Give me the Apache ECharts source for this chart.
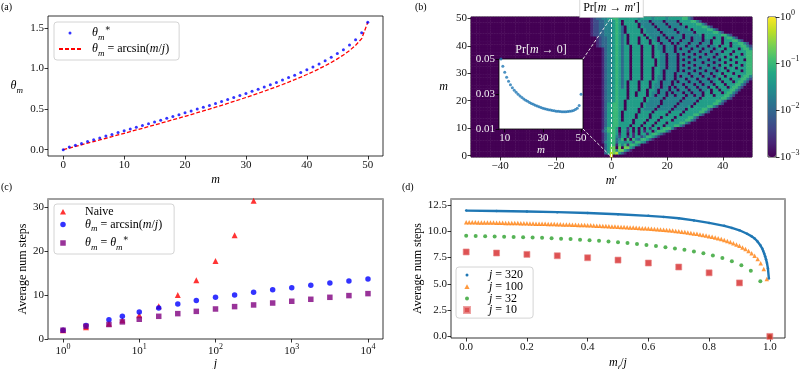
<!DOCTYPE html>
<html>
<head>
<meta charset="utf-8">
<script src="https://cdn.jsdelivr.net/npm/echarts@6.0.0/dist/echarts.min.js"></script>
<style>html,body{margin:0;padding:0;background:#fff;}#chart{width:806px;height:369px;}</style>
</head>
<body>
<div id="chart"></div>
<script>
// ================= DATA =================
// Panel (a)
const mList = [0,1,2,3,4,5,6,7,8,9,10,11,12,13,14,15,16,17,18,19,20,21,22,23,24,25,26,27,28,29,30,31,32,33,34,35,36,37,38,39,40,41,42,43,44,45,46,47,48,49,50];
const thetaStar = [0,0.032,0.055,0.077,0.099,0.122,0.144,0.167,0.188,0.210,0.232,0.254,0.276,0.298,0.320,0.342,0.364,0.386,0.408,0.431,0.454,0.476,0.500,0.523,0.546,0.570,0.594,0.618,0.642,0.668,0.694,0.719,0.746,0.773,0.801,0.829,0.859,0.889,0.919,0.952,0.985,1.020,1.057,1.096,1.139,1.185,1.234,1.291,1.357,1.441,1.571];
const thetaArcsin = [0,0.0200,0.0400,0.0600,0.0801,0.1002,0.1203,0.1405,0.1607,0.1810,0.2014,0.2218,0.2424,0.2630,0.2838,0.3047,0.3257,0.3469,0.3683,0.3898,0.4115,0.4334,0.4556,0.4780,0.5006,0.5236,0.5469,0.5704,0.5944,0.6187,0.6435,0.6687,0.6945,0.7208,0.7478,0.7754,0.8038,0.8331,0.8632,0.8947,0.9273,0.9614,0.9973,1.0353,1.0759,1.1198,1.1681,1.2226,1.2870,1.3694,1.5708];

// Panel (b): estimated colour level per cell (0 = 1e-3 ... 9 = 1e0, steps of 1/3 decade)
// one string per row m = 0..50; groups of 10 characters start at m' = -10, 0, 10, 20, 30, 40, 50
const heatRows = [
"0000000000 9",
"0000000035 878531",
"0000000035 77477531",
"0000000035 770707753",
"0000000035 6616461665 3",
"0000000145 6635545536 6541",
"0000000135 6634606064 366531",
"0000000135 6642551515 52466531",
"0000000135 6651550515 0551566531",
"0000000246 6650551505 0515505666 42",
"0000000146 6650551505 0505155056 6641",
"0000000135 5665555055 5055505550 5556642",
"0000000135 5665555505 5505550555 055556642",
"0000000135 5665055505 5550555055 5505555664 2",
"0000000135 5665055550 5555055505 5550555566 42",
"0000000135 5665055550 5555055555 0555505555 6642",
"0000000135 5665055555 0555505555 5055550555 556642",
"0000000135 5665505555 0544440444 4404444055 5556642",
"0000000135 5665505555 5054444044 4440444450 555556642",
"0000000135 5665505555 5054444404 4444044444 0555555664 2",
"0000000134 4565505555 5505444404 4444404444 4055555566 42",
"0000000134 4565550555 5505444440 4444440444 4405555555 6642",
"0000000134 4565550550 5550540444 0440444044 0440555055 56642",
"0000000134 4565550550 5550544044 0404440440 4440550555 056642",
"0000000134 4565550555 0550554044 4044044404 4404450550 5556642",
"0000000134 4565350555 0555054404 4040444044 4044405505 55056642",
"0000000134 4565350555 0555054404 4404440444 0440444055 505556642",
"0000000134 4565350555 0555055404 4404044404 4404440455 0555056642",
"0000000134 4565355055 5055505440 4440444044 4044404450 5550555664 2",
"0000000134 4565355055 5055505440 4440404440 4440444045 5055550566 4",
"0000000134 4565355055 5055505540 4440444404 4404440445 0555055556 6",
"0000000134 4565355055 5055505540 4444040444 0444044404 5505555056 6",
"0000000134 4565355055 5055505544 0444044404 4404444044 5055505556 6",
"0000000134 4565355055 5055550544 0444040444 0444404440 5550555056 6",
"0000000134 4565355055 5055550544 0444044404 4440444044 5055505556 6",
"0000000134 4565355055 5055550544 0444040444 0444404440 5550555506 6",
"0000000134 4565355055 5055505544 0444044404 4404444044 5055505556 6",
"0000000134 4565355055 5055505544 0444040444 0444044404 5550555056 6",
"0000000134 4565355055 5055505540 4440444404 4404440444 0555055556 6",
"0000000134 4565355055 5055505440 4440404440 4440444045 5055550566 4",
"0000012334 4565355055 5055505440 4440444044 4044404450 5550555664 2",
"0000012334 4565350555 0555055404 4404044404 4404440555 0550556642",
"0000012334 4565350555 0555054044 4044404440 4440440555 05556642",
"0000012334 4565350555 0550544044 0404440440 4440555055 056642",
"0001223344 4565350555 5505444440 4444440444 4450555555 6642",
"0001223344 4565305555 5054444404 4444044444 0555555664 2",
"0001223344 4565305555 5054444044 4440444450 555556642",
"0001223344 4565305555 0544440444 4044444055 5556642",
"0001223344 4565055555 0444404444 0444405555 56642",
"0001223344 4565055550 5444044440 4444055556 642",
"0001233445 5665555555 4555545555 4555556642"
];
const colorbarTicks = [0.001, 0.01, 0.1, 1];
// inset of (b): Pr[m -> 0]
const insetM = [8,9,10,11,12,13,14,15,16,17,18,19,20,21,22,23,24,25,26,27,28,29,30,31,32,33,34,35,36,37,38,39,40,41,42,43,44,45,46,47,48,49,50];
const insetPr = [0.0500,0.0458,0.0424,0.0396,0.0373,0.0353,0.0336,0.0322,0.0310,0.0299,0.0289,0.0280,0.0272,0.0265,0.0258,0.0252,0.0246,0.0241,0.0236,0.0231,0.0227,0.0223,0.0219,0.0216,0.0213,0.0210,0.0208,0.0206,0.0204,0.0202,0.0201,0.0200,0.0199,0.0199,0.0199,0.0200,0.0201,0.0203,0.0206,0.0211,0.0218,0.0235,0.0298];
const insetRef = 0.03;

// Panel (c)
const jList = [1,2,4,6,10,18,32,56,100,178,316,562,1000,1778,3162,5623,10000];
const naiveSteps = [2.0,2.66,3.5,4.25,5.4,7.45,10.0,13.4,17.8,23.65,31.5];
const arcsinSteps = [2.0,3.1,4.4,5.2,6.15,7.07,7.98,8.75,9.5,10.04,10.65,11.25,11.7,12.24,12.78,13.23,13.69];
const starSteps = [2.0,2.9,3.3,3.9,4.5,5.17,5.78,6.3,6.84,7.38,7.76,8.2,8.6,9.05,9.5,9.89,10.34];
const cTicks = [1,10,100,1000,10000];

// Panel (d)
const d320x = [0,0.1,0.2,0.3,0.4,0.5,0.6,0.65,0.7,0.75,0.8,0.85,0.875,0.9,0.925,0.9406,0.95,0.9594,0.9688,0.975,0.9781,0.9813,0.9844,0.9875,0.9906,0.9938,0.9969];
const d320y = [11.95,11.91,11.86,11.80,11.72,11.60,11.45,11.35,11.22,11.02,10.78,10.50,10.30,10.08,9.75,9.50,9.30,9.02,8.65,8.35,8.12,7.88,7.62,7.32,6.98,6.45,5.50];
const d100 = [10.85,10.85,10.84,10.84,10.83,10.83,10.82,10.82,10.81,10.81,10.80,
10.79,10.79,10.78,10.77,10.77,10.76,10.76,10.75,10.74,10.74,
10.73,10.72,10.71,10.71,10.70,10.69,10.68,10.67,10.67,10.66,
10.65,10.64,10.63,10.62,10.61,10.60,10.59,10.58,10.57,10.56,
10.55,10.53,10.52,10.51,10.49,10.48,10.46,10.45,10.43,10.42,
10.40,10.39,10.37,10.35,10.34,10.32,10.30,10.28,10.27,10.25,
10.23,10.21,10.18,10.16,10.13,10.10,10.08,10.05,10.02,9.98,
9.95,9.91,9.87,9.83,9.78,9.74,9.69,9.64,9.58,9.52,
9.46,9.39,9.32,9.24,9.15,9.06,8.96,8.85,8.73,8.60,
8.45,8.30,8.12,7.90,7.65,7.35,6.95,6.40,5.45,0];
const d32 = [9.56,9.54,9.52,9.50,9.47,9.45,9.42,9.39,9.36,9.32,9.28,9.24,9.19,9.14,9.08,9.01,8.94,8.86,8.78,8.68,8.58,8.47,8.35,8.22,8.07,7.91,7.69,7.44,7.15,6.77,6.23,5.25,0];
const d10 = [8.02,7.92,7.79,7.66,7.47,7.25,6.97,6.59,6.04,5.08,0];

// ================= BUILD =================
const SERIF = "'Liberation Serif','DejaVu Serif',serif";
// rich text styles (ECharts option style uses "color", graphic/zrender style uses "fill")
const R = (col, fs, key) => {
  key = key || 'color';
  const s = (o) => { o[key] = col; return o; };
  return {
    i: s({fontFamily: SERIF, fontStyle: 'italic', fontSize: fs, lineHeight: fs + 6}),
    n: s({fontFamily: SERIF, fontSize: fs, lineHeight: fs + 6}),
    sub: s({fontFamily: SERIF, fontStyle: 'italic', fontSize: Math.round(fs * 0.72), lineHeight: Math.round(fs * 0.72), verticalAlign: 'bottom'}),
    sup: s({fontFamily: SERIF, fontSize: Math.round(fs * 0.72), lineHeight: Math.round(fs * 0.72), verticalAlign: 'top'})
  };
};
const RB = R('#000', 12);
const RW = R('#f2f2f2', 11);

const viridis = ['#440154','#482475','#414487','#355f8d','#2a788e','#21918c','#22a884','#44bf70','#7ad151','#bddf26','#fde725'];

const xCats = []; for (let i = -50; i <= 50; i++) xCats.push(String(i));
const yCats = []; for (let i = 0; i <= 50; i++) yCats.push(String(i));
const heat = [];
heatRows.forEach((row, m) => {
  const lv = new Array(101).fill(0);
  row.split(' ').forEach((seg, k) => {
    for (let c = 0; c < seg.length && c < 10; c++) {
      const mp = -10 + 10 * k + c;
      if (mp >= -50 && mp <= 50) lv[mp + 50] = +seg[c];
    }
  });
  lv.forEach((v, i) => heat.push([i, m, v]));
});

const pair = (xs, ys) => xs.map((x, i) => [x, ys[i]]);
const aStar = pair(mList, thetaStar);
const aArc = pair(mList, thetaArcsin);
const insetData = pair(insetM, insetPr);
const cNaive = pair(jList.slice(0, naiveSteps.length), naiveSteps);
const cArc = pair(jList, arcsinSteps);
const cStar = pair(jList, starSteps);
const d320 = pair(d320x, d320y);
const d100d = d100.map((v, k) => [k / 100, v]);
const d32d = d32.map((v, k) => [k / 32, v]);
const d10d = d10.map((v, k) => [k / 10, v]);

const minus = s => String(s).replace('-', '\u2212');
const pow10 = v => { const k = Math.round(Math.log10(v)); return '{n|10}{sup|' + minus(k) + '}'; };

const tickStyle = {show: true, length: 3.5, lineStyle: {color: '#000', width: 0.8}};
const lblStyle = {fontFamily: SERIF, fontSize: 11, color: '#111', margin: 4};
const noLine = {show: false, onZero: false};
function vAxis(gi, min, max, ticks, fmt, extra) {
  return Object.assign({
    type: 'value', gridIndex: gi, min: min, max: max,
    axisLine: noLine, splitLine: {show: false},
    axisTick: Object.assign({customValues: ticks}, tickStyle),
    axisLabel: Object.assign({customValues: ticks, formatter: fmt}, lblStyle)
  }, extra || {});
}
const f1 = v => v.toFixed(1);
const f0 = v => String(Math.round(v));
const f2 = v => v.toFixed(2);

const gridBase = {show: true, borderColor: '#000', borderWidth: 0.8, containLabel: false, outerBoundsMode: 'none'};
const grids = [
  Object.assign({left: 48, top: 16, width: 335, height: 140}, gridBase),
  Object.assign({left: 471, top: 17, width: 281, height: 140}, gridBase),
  Object.assign({left: 499, top: 59, width: 84, height: 70, backgroundColor: '#fff', z: 10}, gridBase),
  Object.assign({left: 768, top: 17, width: 8, height: 140}, gridBase),
  Object.assign({left: 48, top: 199, width: 335, height: 140}, gridBase),
  Object.assign({left: 451, top: 199, width: 334, height: 139}, gridBase)
];

const nameStyle = (rich) => ({rich: rich});

const xAxes = [
  vAxis(0, -2.5, 52.5, [0,10,20,30,40,50], f0, {name: '{i|m}', nameLocation: 'middle', nameGap: 15, nameTextStyle: nameStyle(RB)}),
  {type: 'category', gridIndex: 1, data: xCats, boundaryGap: true,
   axisLine: noLine, splitLine: {show: false},
   axisTick: Object.assign({alignWithLabel: true, interval: (i, v) => [-40,-20,0,20,40].indexOf(+v) >= 0}, tickStyle),
   axisLabel: Object.assign({interval: (i, v) => [-40,-20,0,20,40].indexOf(+v) >= 0, formatter: v => minus(v)}, lblStyle),
   name: "{i|m}{n|\u2032}", nameLocation: 'middle', nameGap: 15, nameTextStyle: nameStyle(RB)},
  vAxis(2, 7, 51, [10,30,50], f0, {z: 11, axisLabel: Object.assign({customValues: [10,30,50], formatter: f0}, lblStyle, {color: '#f2f2f2'}),
    name: '{i|m}', nameLocation: 'middle', nameGap: 10, nameTextStyle: nameStyle(RW)}),
  {type: 'value', gridIndex: 3, min: 0, max: 1, show: false},
  {type: 'log', gridIndex: 4, min: 0.635, max: 15740, logBase: 10,
   axisLine: noLine, splitLine: {show: false},
   axisTick: Object.assign({customValues: cTicks}, tickStyle),
   axisLabel: Object.assign({customValues: cTicks, formatter: pow10, rich: R('#111', 11)}, lblStyle),
   name: '{i|j}', nameLocation: 'middle', nameGap: 15, nameTextStyle: nameStyle(RB)},
  vAxis(5, -0.05, 1.05, [0,0.2,0.4,0.6,0.8,1.0], f1, {name: '{i|m}{sub|t}{n|/}{i|j}', nameLocation: 'middle', nameGap: 16, nameTextStyle: nameStyle(RB)}),
  {type: 'value', gridIndex: 4, position: 'top', min: 0, max: 1, axisLine: {show: true, onZero: false, lineStyle: {color: '#a0a0a0', width: 2}}, axisTick: {show: false}, axisLabel: {show: false}, splitLine: {show: false}},
  {type: 'value', gridIndex: 5, position: 'top', min: 0, max: 1, axisLine: {show: true, onZero: false, lineStyle: {color: '#a0a0a0', width: 2}}, axisTick: {show: false}, axisLabel: {show: false}, splitLine: {show: false}}
];
const yAxes = [
  vAxis(0, -0.0785, 1.649, [0,0.5,1.0,1.5], f1, {name: '{i|\u03b8}{sub|m}', nameLocation: 'middle', nameGap: 25, nameRotate: 0, nameTextStyle: nameStyle(RB)}),
  {type: 'category', gridIndex: 1, data: yCats, boundaryGap: true,
   axisLine: noLine, splitLine: {show: false},
   axisTick: Object.assign({alignWithLabel: true, interval: (i) => i % 10 === 0}, tickStyle),
   axisLabel: Object.assign({interval: (i) => i % 10 === 0}, lblStyle),
   name: '{i|m}', nameLocation: 'middle', nameGap: 23, nameRotate: 0, nameTextStyle: nameStyle(RB)},
  vAxis(2, 0.01, 0.05, [0.01,0.03,0.05], f2, {z: 11, axisLabel: Object.assign({customValues: [0.01,0.03,0.05], formatter: f2}, lblStyle, {color: '#f2f2f2'})}),
  {type: 'log', gridIndex: 3, min: 0.001, max: 1, logBase: 10, position: 'right',
   axisLine: noLine, splitLine: {show: false},
   axisTick: Object.assign({customValues: colorbarTicks}, tickStyle),
   axisLabel: Object.assign({customValues: colorbarTicks, formatter: pow10, rich: R('#111', 11)}, lblStyle)},
  vAxis(4, 0, 31.9, [0,10,20,30], f0, {name: 'Average num steps', nameLocation: 'middle', nameGap: 18, nameTextStyle: {fontFamily: SERIF, fontSize: 12, color: '#000'}}),
  vAxis(5, -0.15, 13.05, [0,2.5,5,7.5,10,12.5], f1, {name: 'Average num steps', nameLocation: 'middle', nameGap: 27, nameTextStyle: {fontFamily: SERIF, fontSize: 12, color: '#000'}})
];

const box = 'M0,0M10,10';
const ICON = {
  dot3: 'path://' + box + 'M3.5,5a1.5,1.5 0 1,0 3,0a1.5,1.5 0 1,0 -3,0Z',
  dot4: 'path://' + box + 'M3,5a2,2 0 1,0 4,0a2,2 0 1,0 -4,0Z',
  dot55: 'path://' + box + 'M2.25,5a2.75,2.75 0 1,0 5.5,0a2.75,2.75 0 1,0 -5.5,0Z',
  tri5: 'path://' + box + 'M5,2.6L7.6,7.2L2.4,7.2Z',
  tri6: 'path://' + box + 'M5,2L8,7.4L2,7.4Z',
  sq55: 'path://' + box + 'M2.25,2.25L7.75,2.25L7.75,7.75L2.25,7.75Z',
  sq6: 'path://' + box + 'M2,2L8,2L8,8L2,8Z'
};
const ARC = '{i|\u03b8}{sub|m}{n| = arcsin(}{i|m}{n|/}{i|j}{n|)}';
const LBL = {
  a_star: '{i|\u03b8}{sub|m}{sup|\u2217}',
  a_arc: ARC,
  c_naive: '{n|Naive}',
  c_arc: ARC,
  c_star: '{i|\u03b8}{sub|m}{n| = }{i|\u03b8}{sub|m}{sup|\u2217}',
  d320: '{i|j}{n| = 320}', d100: '{i|j}{n| = 100}', d32: '{i|j}{n| = 32}', d10: '{i|j}{n| = 10}'
};
const legBase = {orient: 'vertical', selectedMode: false, itemWidth: 22, itemHeight: 10,
  backgroundColor: 'rgba(255,255,255,0.85)', borderColor: '#d4d4d4', borderWidth: 1, borderRadius: 3,
  formatter: n => LBL[n], textStyle: {rich: RB, padding: [0, 0, 0, 6]}};

const option = {
  animation: false,
  backgroundColor: '#fff',
  grid: grids,
  xAxis: xAxes,
  yAxis: yAxes,
  visualMap: [{type: 'continuous', seriesIndex: 2, dimension: 2, min: 0, max: 9, inRange: {color: viridis},
    left: 768, top: 17, itemWidth: 8, itemHeight: 140, padding: 0, calculable: false, hoverLink: false, showLabel: false, text: null}],
  legend: [
    Object.assign({}, legBase, {left: 54, top: 22, itemGap: 1, padding: [2, 10, 2, 4],
      data: [{name: 'a_star', icon: ICON.dot3}, {name: 'a_arc', itemStyle: {opacity: 0}}]}),
    Object.assign({}, legBase, {left: 54, top: 204, itemGap: 0.5, padding: [2, 12, 2, 4],
      data: [{name: 'c_naive', icon: ICON.tri6}, {name: 'c_arc', icon: ICON.dot55}, {name: 'c_star', icon: ICON.sq55}]}),
    Object.assign({}, legBase, {left: 456, top: 267, itemGap: -0.3, padding: [2, 10, 2, 5],
      data: [{name: 'd320', icon: ICON.dot3}, {name: 'd100', icon: ICON.tri5}, {name: 'd32', icon: ICON.dot4}, {name: 'd10', icon: ICON.sq6}]})
  ],
  series: [
    {name: 'a_star', type: 'scatter', xAxisIndex: 0, yAxisIndex: 0, data: aStar, symbol: 'circle', symbolSize: 3, itemStyle: {color: '#0000ff'}, z: 3},
    {name: 'a_arc', type: 'line', xAxisIndex: 0, yAxisIndex: 0, data: aArc, symbol: 'none', lineStyle: {color: '#ff0000', width: 1.3, type: [4, 2]}, itemStyle: {color: '#ff0000'}, z: 2},
    {name: 'heat', type: 'heatmap', xAxisIndex: 1, yAxisIndex: 1, data: heat, progressive: 0, itemStyle: {borderWidth: 0}, emphasis: {disabled: true},
     markLine: {silent: true, symbol: ['none', 'none'], label: {show: false}, lineStyle: {color: '#ffffff', type: [3, 2], width: 1, opacity: 0.9}, data: [{xAxis: '0'}]}},
    {name: 'inset', type: 'scatter', xAxisIndex: 2, yAxisIndex: 2, data: insetData, symbolSize: 3, itemStyle: {color: '#1f77b4'}, z: 12,
     markLine: {silent: true, symbol: ['none', 'none'], label: {show: false}, lineStyle: {color: '#1f77b4', type: [5, 3], width: 1.3}, data: [{yAxis: insetRef}]}},
    {name: 'c_naive', type: 'scatter', xAxisIndex: 4, yAxisIndex: 4, data: cNaive, symbol: 'triangle', symbolSize: 6, itemStyle: {color: '#ff0000'}},
    {name: 'c_arc', type: 'scatter', xAxisIndex: 4, yAxisIndex: 4, data: cArc, symbol: 'circle', symbolSize: 5.5, itemStyle: {color: '#0000ff'}},
    {name: 'c_star', type: 'scatter', xAxisIndex: 4, yAxisIndex: 4, data: cStar, symbol: 'rect', symbolSize: 5.5, itemStyle: {color: '#800080'}},
    {name: 'd320', type: 'line', xAxisIndex: 5, yAxisIndex: 5, data: d320, symbol: 'circle', symbolSize: 2.5, showSymbol: true, lineStyle: {color: '#1f77b4', width: 2.4}, itemStyle: {color: '#1f77b4'}},
    {name: 'd100', type: 'scatter', xAxisIndex: 5, yAxisIndex: 5, data: d100d, symbol: 'triangle', symbolSize: 4.5, itemStyle: {color: '#ff7f0e'}},
    {name: 'd32', type: 'scatter', xAxisIndex: 5, yAxisIndex: 5, data: d32d, symbol: 'circle', symbolSize: 4, itemStyle: {color: '#2ca02c'}},
    {name: 'd10', type: 'scatter', xAxisIndex: 5, yAxisIndex: 5, data: d10d, symbol: 'rect', symbolSize: 6, itemStyle: {color: '#d62728', borderColor: '#e98a8a', borderWidth: 0.8}}
  ]
};

const chart = echarts.init(document.getElementById('chart'), null, {renderer: 'canvas'});
chart.setOption(option);

// annotations derived from the library's coordinate systems
const gm = chart.getModel();
const hr = gm.getComponent('grid', 1).coordinateSystem.getRect();
const ir = gm.getComponent('grid', 2).coordinateSystem.getRect();
const x0 = chart.convertToPixel({xAxisIndex: 1}, '0');
const txt = (x, y, text, rich, extra) => ({type: 'text', x: x, y: y, z: 30,
  style: Object.assign({text: text, rich: rich, align: 'center', verticalAlign: 'middle', textAlign: 'center', textVerticalAlign: 'middle'}, extra || {})});
const PL = {fontFamily: SERIF, fontSize: 10, fill: '#000'};
chart.setOption({graphic: [
  {type: 'line', z: 25, shape: {x1: ir.x + ir.width, y1: ir.y, x2: x0, y2: hr.y}, style: {stroke: '#e6e6e6', lineDash: [3, 2], lineWidth: 1}},
  {type: 'line', z: 25, shape: {x1: ir.x + ir.width, y1: ir.y + ir.height, x2: x0, y2: hr.y + hr.height}, style: {stroke: '#e6e6e6', lineDash: [3, 2], lineWidth: 1}},
  txt(ir.x + ir.width / 2, ir.y - 9, '{n|Pr[}{i|m}{n| \u2192 0]}', R('#f2f2f2', 12, 'fill')),
  txt(x0, 8, '{n|Pr[}{i|m}{n| \u2192 }{i|m}{n|\u2032]}', R('#000', 12, 'fill'), {backgroundColor: '#fff', borderColor: '#cfcfcf', borderWidth: 0.8, padding: [0, 3]}),
  {type: 'text', x: 1, y: 2, z: 30, style: Object.assign({text: '(a)'}, PL)},
  {type: 'text', x: 415, y: 2, z: 30, style: Object.assign({text: '(b)'}, PL)},
  {type: 'text', x: 1, y: 182, z: 30, style: Object.assign({text: '(c)'}, PL)},
  {type: 'text', x: 402, y: 182, z: 30, style: Object.assign({text: '(d)'}, PL)}
]});
</script>
</body>
</html>
